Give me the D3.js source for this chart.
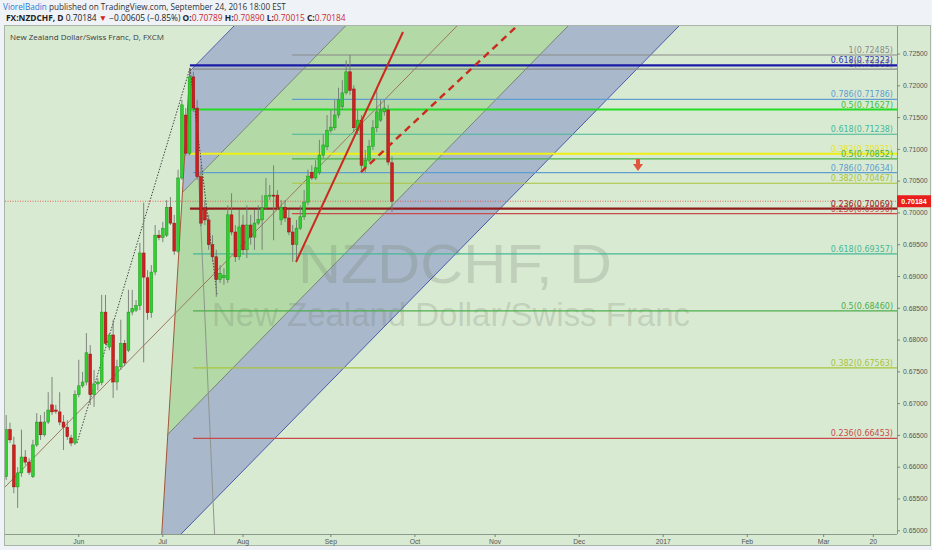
<!DOCTYPE html>
<html><head><meta charset="utf-8">
<script src="https://cdn.jsdelivr.net/npm/d3@7"></script>
<style>body{margin:0;background:#eff2f7;} svg{display:block}</style>
</head><body><svg id="c" width="932" height="550"></svg>
<script>
// ---------- DATA ----------
const firstDate = "2016-05-05";   // first visible daily bar (weekdays only)
const open  = [0.6585,0.6659,0.6635,0.6569,0.6591,0.6616,0.6608,0.6585,0.6635,0.6671,0.6651,0.6671,0.6698,0.6690,0.6687,0.6671,0.6663,0.6646,0.6638,0.6714,0.6728,0.6734,0.6778,0.6714,0.6731,0.6733,0.6844,0.6789,0.6808,0.6734,0.6758,0.6795,0.6784,0.6844,0.6847,0.6854,0.6937,0.6898,0.6843,0.6907,0.6965,0.6961,0.6965,0.7009,0.6984,0.6940,0.7055,0.7154,0.7094,0.7214,0.7165,0.7057,0.7008,0.6989,0.6950,0.6931,0.6895,0.6898,0.6895,0.6997,0.6970,0.6931,0.6981,0.6942,0.6981,0.6962,0.6984,0.6989,0.7008,0.7027,0.7028,0.7028,0.6989,0.7009,0.6992,0.6970,0.6950,0.6976,0.6994,0.7017,0.7064,0.7055,0.7064,0.7091,0.7104,0.7130,0.7134,0.7154,0.7167,0.7189,0.7222,0.7195,0.7130,0.7146,0.7072,0.7083,0.7105,0.7134,0.7146,0.7159,0.7162,0.70789];
const high  = [0.6682,0.6670,0.6648,0.6600,0.6659,0.6627,0.6614,0.6643,0.6685,0.6682,0.6687,0.6718,0.6742,0.6698,0.6718,0.6682,0.6674,0.6651,0.6721,0.6769,0.6750,0.6811,0.6792,0.6753,0.6740,0.6871,0.6871,0.6811,0.6832,0.6769,0.6832,0.6800,0.6879,0.6879,0.6863,0.6953,0.7016,0.6910,0.6918,0.6981,0.6973,0.6986,0.7020,0.7025,0.6997,0.7068,0.7178,0.7165,0.7226,0.7222,0.7178,0.7075,0.7020,0.6997,0.6965,0.6942,0.6918,0.6913,0.7012,0.7031,0.6981,0.7005,0.6997,0.7012,0.6997,0.7005,0.7012,0.7028,0.7055,0.7044,0.7075,0.7036,0.7020,0.7020,0.7005,0.6981,0.6989,0.7012,0.7036,0.7068,0.7075,0.7083,0.7115,0.7123,0.7154,0.7162,0.7178,0.7197,0.7209,0.7240,0.72485,0.7201,0.7162,0.7154,0.7099,0.7115,0.7146,0.7198,0.7178,0.7178,0.7170,0.70890];
const low   = [0.6580,0.6638,0.6559,0.6536,0.6585,0.6603,0.6588,0.6583,0.6632,0.6643,0.6648,0.6668,0.6682,0.6684,0.6666,0.6627,0.6643,0.6633,0.6635,0.6710,0.6725,0.6729,0.6698,0.6695,0.6721,0.6729,0.6792,0.6784,0.6709,0.6721,0.6753,0.6759,0.6781,0.6839,0.6844,0.6847,0.6765,0.6832,0.6835,0.6902,0.6957,0.6954,0.6962,0.6981,0.6934,0.6937,0.7052,0.7090,0.7091,0.7159,0.7052,0.6979,0.6981,0.6942,0.6923,0.6868,0.6890,0.6887,0.6890,0.6965,0.6923,0.6926,0.6934,0.6929,0.6950,0.6942,0.6981,0.6942,0.7005,0.7020,0.6957,0.7005,0.6981,0.6986,0.6965,0.6923,0.6926,0.6973,0.6989,0.7012,0.7052,0.7052,0.7060,0.7086,0.7099,0.7126,0.7130,0.7149,0.7162,0.7186,0.7186,0.7127,0.7123,0.7068,0.7064,0.7080,0.7099,0.7127,0.7143,0.7153,0.7075,0.70015];
const close = [0.6659,0.6643,0.6569,0.6591,0.6616,0.6608,0.6592,0.6635,0.6671,0.6651,0.6671,0.6690,0.6687,0.6688,0.6671,0.6663,0.6648,0.6638,0.6714,0.6728,0.6734,0.6780,0.6714,0.6731,0.6734,0.6844,0.6795,0.6808,0.6734,0.6758,0.6795,0.6764,0.6844,0.6850,0.6854,0.6937,0.6899,0.6843,0.6907,0.6965,0.6961,0.6976,0.7009,0.6984,0.6940,0.7055,0.7170,0.7094,0.7214,0.7165,0.7057,0.6984,0.6989,0.6950,0.6931,0.6895,0.6905,0.6902,0.6997,0.6970,0.6931,0.6978,0.6942,0.6981,0.6962,0.6984,0.6990,0.7008,0.7027,0.7028,0.7027,0.7009,0.7009,0.6992,0.6970,0.6950,0.6976,0.6994,0.7017,0.7058,0.7055,0.7071,0.7091,0.7107,0.7130,0.7135,0.7154,0.7178,0.7189,0.7222,0.7193,0.7134,0.7146,0.7075,0.7083,0.7105,0.7134,0.7159,0.7162,0.7165,0.7080,0.70184];
const lastPrice = 0.70184;

// x-axis ticks (month starts, weekday bars)
const tickDates  = ["2016-06-01","2016-07-01","2016-08-01","2016-09-01","2016-10-03","2016-11-01","2016-12-01","2017-01-02","2017-02-01","2017-03-01","2017-03-20"];
const tickLabels = ["Jun","Jul","Aug","Sep","Oct","Nov","Dec","2017","Feb","Mar","20"];
const priceTicks = [0.650,0.655,0.660,0.665,0.670,0.675,0.680,0.685,0.690,0.695,0.700,0.705,0.710,0.715,0.720,0.725];

// Fibonacci retracement tools (levels / prices)
const fibALevels = [1,0.786,0.618,0.5,0.382,0.236];
const fibAPrices = [0.72261,0.70634,0.69357,0.68460,0.67563,0.66453];
const fibAStart  = 48.9;
const fibBLevels = [1,0.786,0.618,0.5,0.382,0.236];
const fibBPrices = [0.72485,0.71786,0.71238,0.70852,0.70467,0.69990];
const fibBStart  = 74.8;
const fibCLevels = [0.618,0.5,0.382,0.236];
const fibCPrices = [0.72323,0.71627,0.70931,0.70069];
const fibCStart  = 48.1;

// Pitchfork tines in [barIndex, price]
const tineStart = [[48.07,0.72231],[46.16,0.70324],[44.22,0.68416],[42.31,0.66517],[40.39,0.64618]];
const tineEnd   = [[143.28,0.7807],[172.47,0.7807],[201.66,0.7807],[230.72,0.7807],[259.77,0.7807]];
const medianStart = [-4.24,0.65447];
const handleLine = [[48.12,0.72280],[40.39,0.64618]];
const grayLine   = [[50.09,0.7099],[54.67,0.64775]];
const zigzag     = [[18.54,0.66380],[48.12,0.72280],[55.19,0.68709]];
const redTrend   = [[75.87,0.69228],[103.88,0.72847]];
const redDashed  = [[92.88,0.70644],[134.8,0.7300]];
const arrowMark  = [165.4,0.70754];

// ---------- LAYOUT ----------
const svg = d3.select("#c");
const L=5, R=897, T=26, B=534;
const parse = d3.utcParse("%Y-%m-%d");
const d0 = parse(firstDate);
const barIndex = s => d3.utcDay.range(d0, parse(s)).filter(d=>d.getUTCDay()%6!==0).length;

const x = d3.scaleLinear().domain([-0.31,233.2]).range([L,R]);
const y = d3.scaleLinear().domain([0.64949,0.72941]).range([B,T]);

// page / pane
svg.append("rect").attr("x",0).attr("y",0).attr("width",932).attr("height",550).attr("fill","#eff2f7");
svg.append("rect").attr("x",4.5).attr("y",25.5).attr("width",926).attr("height",520)
   .attr("fill","#d9ead2").attr("stroke","#a9b5a7");

svg.append("clipPath").attr("id","pc").append("rect").attr("x",L).attr("y",T).attr("width",R-L).attr("height",B-T);
const g = svg.append("g").attr("clip-path","url(#pc)");

// pitchfork fills
const bandFill = ["#a9b8ca","#b2d9a6","#b2d9a6","#a9b8ca"];
for(let k=0;k<4;k++){
  const pts=[tineStart[k],tineEnd[k],tineEnd[k+1],tineStart[k+1]].map(p=>[x(p[0]),y(p[1])]);
  g.append("path").attr("d","M"+pts.join("L")+"Z").attr("fill",bandFill[k]);
}
// watermark
g.append("text").attr("x",298).attr("y",283).attr("textLength",314).attr("lengthAdjust","spacingAndGlyphs")
 .attr("font-family","Liberation Sans, Arial, sans-serif").attr("font-size",55)
 .attr("fill","#6f7a6d").attr("fill-opacity",0.24).text("NZDCHF, D");
g.append("text").attr("x",212).attr("y",326).attr("textLength",478).attr("lengthAdjust","spacingAndGlyphs")
 .attr("font-family","Liberation Sans, Arial, sans-serif").attr("font-size",33)
 .attr("fill","#6f7a6d").attr("fill-opacity",0.24).text("New Zealand Dollar/Swiss Franc");

const line = d3.line().x(d=>x(d[0])).y(d=>y(d[1]));
// tines
const tineColor=["#4657a8","#6e7f6a",null,"#6e7f6a","#3c4ea8"];
[0,1,3,4].forEach(k=>{
  g.append("path").attr("d",line([tineStart[k],tineEnd[k]])).attr("stroke",tineColor[k]).attr("stroke-width",0.9).attr("fill","none");
});
g.append("path").attr("d",line([medianStart,tineEnd[2]])).attr("stroke","#9b6a52").attr("stroke-width",0.9).attr("fill","none");
g.append("path").attr("d",line(handleLine)).attr("stroke","#a4553a").attr("stroke-width",1).attr("fill","none");
g.append("path").attr("d",line(grayLine)).attr("stroke","#8f958f").attr("stroke-width",1).attr("fill","none");

// fib tools
const thinColor = {1:"#8a8a8a",0.786:"#5f9ecf",0.618:"#45b897",0.5:"#4cae4c",0.382:"#a8c43c",0.236:"#c94a4a"};
const thickColor = {0.618:"#1b1ba6",0.5:"#25dc25",0.382:"#f0f014",0.236:"#901c1c"};
const thickLabel = {0.618:"#3a3ab8",0.5:"#3fbf3f",0.382:"#e6e61a",0.236:"#8e2a2a"};
function fib(levels, prices, start, colorOf, labelOf, w){
  levels.forEach((lv,j)=>{
    const yy=y(prices[j]);
    g.append("line").attr("x1",x(start)).attr("x2",R).attr("y1",yy).attr("y2",yy)
     .attr("stroke",colorOf[lv]).attr("stroke-width",w);
  });
  levels.forEach((lv,j)=>{
    g.append("text").attr("x",893).attr("y",y(prices[j])-2).attr("text-anchor","end")
     .attr("font-family","DejaVu Sans, Verdana, sans-serif").attr("font-size",8)
     .attr("fill",labelOf[lv]).text(lv+"("+prices[j].toFixed(5)+")");
  });
}
fib(fibALevels,fibAPrices,fibAStart,thinColor,thinColor,1.2);
fib(fibCLevels,fibCPrices,fibCStart,thickColor,thickLabel,2.2);
fib(fibBLevels,fibBPrices,fibBStart,thinColor,thinColor,1.2);

// zigzag dotted
g.append("path").attr("d",line(zigzag)).attr("stroke","#333").attr("stroke-width",0.9)
 .attr("stroke-dasharray","1.5,1.5").attr("fill","none");

// current price dotted line
g.append("line").attr("x1",L).attr("x2",R).attr("y1",y(lastPrice)).attr("y2",y(lastPrice))
 .attr("stroke","#e0463c").attr("stroke-width",0.8).attr("stroke-dasharray","1,1.5");

// candles
const bars = d3.range(open.length).map(i=>({i,o:open[i],h:high[i],l:low[i],c:close[i]}));
const cg = g.append("g");
cg.selectAll(".w").data(bars).join("line").attr("x1",d=>x(d.i)).attr("x2",d=>x(d.i))
  .attr("y1",d=>y(d.h)).attr("y2",d=>y(d.l)).attr("stroke","#737873").attr("stroke-width",0.9);
cg.selectAll(".b").data(bars).join("rect")
  .attr("x",d=>x(d.i)-1.4).attr("width",2.8)
  .attr("y",d=>y(Math.max(d.o,d.c))).attr("height",d=>Math.max(1,Math.abs(y(d.o)-y(d.c))))
  .attr("fill",d=>d.c>=d.o?"#2fd02f":"#cf1f1f").attr("stroke",d=>d.c>=d.o?"#1f941f":"#8e1515").attr("stroke-width",0.5);

// red trend lines
g.append("path").attr("d",line(redTrend)).attr("stroke","#cc2a1e").attr("stroke-width",2).attr("fill","none");
g.append("path").attr("d",line(redDashed)).attr("stroke","#cc2a1e").attr("stroke-width",2.4)
 .attr("stroke-dasharray","7,5").attr("fill","none");

// arrow marker
const ax=x(arrowMark[0]), ay=y(arrowMark[1]);
g.append("path").attr("d",`M${ax-2},${ay-6}H${ax+2}V${ay-1}H${ax+5}L${ax},${ay+6}L${ax-5},${ay-1}H${ax-2}Z`)
 .attr("fill","#e2553f");

// axes
svg.append("line").attr("x1",R+0.5).attr("x2",R+0.5).attr("y1",T).attr("y2",B).attr("stroke","#8d9b8b");
svg.append("line").attr("x1",L).attr("x2",R).attr("y1",B+0.5).attr("y2",B+0.5).attr("stroke","#8d9b8b");
priceTicks.forEach(p=>{
  svg.append("line").attr("x1",R).attr("x2",R+3).attr("y1",y(p)).attr("y2",y(p)).attr("stroke","#7a867a");
  svg.append("text").attr("x",903).attr("y",y(p)+2.3).attr("font-family","Liberation Sans, Arial, sans-serif")
   .attr("font-size",6.8).attr("fill","#555").text(d3.format(".5f")(p));
});
tickDates.forEach((s,j)=>{
  const xx=x(barIndex(s));
  svg.append("line").attr("x1",xx).attr("x2",xx).attr("y1",B).attr("y2",B+3).attr("stroke","#7a867a");
  svg.append("text").attr("x",xx).attr("y",544).attr("text-anchor","middle").attr("font-family","Liberation Sans, Arial, sans-serif")
   .attr("font-size",6.8).attr("fill","#555").text(tickLabels[j]);
});
// last price label
svg.append("rect").attr("x",897).attr("y",y(lastPrice)-6).attr("width",34).attr("height",12).attr("fill","#ea1d1d");
svg.append("text").attr("x",914).attr("y",y(lastPrice)+2.4).attr("text-anchor","middle").attr("font-family","Liberation Sans, Arial, sans-serif")
 .attr("font-size",7).attr("font-weight","bold").attr("fill","#fff").text(lastPrice.toFixed(5));

// header
const f1 = svg.append("text").attr("x",3).attr("y",10).attr("font-family","Open Sans, sans-serif").attr("font-size",8.2);
f1.append("tspan").attr("fill","#2b7bd0").text("ViorelBadin");
f1.append("tspan").attr("fill","#333").text(" published on TradingView.com, September 24, 2016 18:00 EST");
const f2 = svg.append("text").attr("x",6).attr("y",21).attr("font-family","Open Sans, sans-serif").attr("font-size",8.4).attr("fill","#222");
f2.append("tspan").attr("font-weight","bold").text("FX:NZDCHF, D");
f2.append("tspan").text(" 0.70184 ");
f2.append("tspan").attr("fill","#d42020").text("▼");
f2.append("tspan").text(" −0.00605 (−0.85%) ");
[["O:",open[open.length-1]],["H:",high[high.length-1]],["L:",low[low.length-1]],["C:",close[close.length-1]]].forEach(([k,v],j)=>{
  f2.append("tspan").attr("font-weight","bold").text((j?" ":"")+k);
  f2.append("tspan").attr("fill","#cc2a2a").text(v.toFixed(5));
});
svg.append("text").attr("x",10).attr("y",40).attr("font-family","Open Sans, sans-serif").attr("font-size",8)
 .attr("fill","#3a3a3a").text("New Zealand Dollar/Swiss Franc, D, FXCM");
</script></body></html>
